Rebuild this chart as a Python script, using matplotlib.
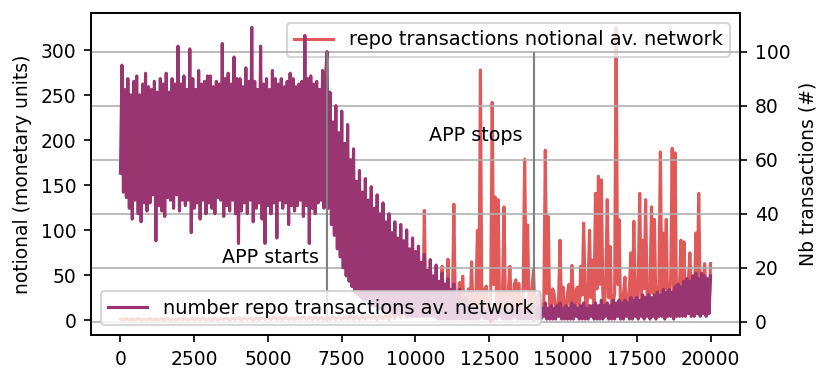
import numpy as np
import matplotlib
matplotlib.use("Agg")
import matplotlib.pyplot as plt

# ---------------- data ----------------
# notional: every 100 up to 9900, then every 50 up to 20000
notional_time = np.concatenate([np.arange(0, 10000, 100), np.arange(10000, 20001, 50)])
notional = [
    1.5, 0.5, 2, 0.5, 1.5, 0.5, 2, 0.5, 1.5, 0.5,
    2, 0.5, 1.5, 0.5, 2, 0.5, 2, 0.5, 1.5, 0.5,
    2, 0.5, 2, 0.5, 2.5, 0.5, 2, 0.5, 2.5, 0.5,
    2, 0.5, 2.5, 0.5, 2, 1, 2.5, 0.5, 2.5, 1,
    3, 0.5, 2.5, 1, 3, 0.5, 2.5, 1, 3, 1,
    3, 1, 3.5, 1, 3, 1, 3.5, 1, 3, 1,
    3.5, 1, 4, 1, 3.5, 1, 4, 1, 3.5, 1,
    4, 1, 4.5, 1, 4, 1, 4.5, 1, 5, 1,
    4.5, 1, 5, 1, 5, 1.5, 5.5, 1, 5, 1.5,
    6, 1, 9, 2, 12, 3, 16, 3, 20, 4,
    # from 10000, every 50
    25, 4, 30, 5, 28, 6, 122, 5, 8, 30, 38, 6, 12, 8, 48, 7, 15, 9, 60, 8,
    10, 9, 68, 8, 10, 12, 129, 9, 11, 30, 42, 10, 49, 11, 12, 25, 35, 10, 65, 12,
    12, 30, 100, 8, 278, 6, 14, 35, 38, 7, 10, 30, 242, 40, 137, 6, 134, 15, 6, 30,
    126, 8, 14, 35, 60, 7, 12, 40, 45, 6, 41, 20, 6, 30, 179, 35, 106, 8, 12, 37,
    56, 6, 10, 28, 30, 7, 12, 20, 189, 30, 115, 6, 14, 35, 30, 7, 12, 25, 89, 6,
    37, 8, 12, 30, 40, 6, 61, 25, 7, 35, 37, 8, 60, 28, 108, 30, 6, 40, 100, 25,
    67, 7, 141, 35, 160, 40, 156, 30, 8, 45, 134, 25, 82, 7, 18, 30, 325, 40, 112, 8,
    15, 30, 48, 7, 19, 35, 75, 8, 110, 30, 9, 45, 141, 25, 89, 35, 134, 30, 8, 40,
    126, 30, 112, 9, 20, 40, 187, 30, 97, 35, 112, 8, 22, 45, 191, 30, 186, 9, 20, 40,
    89, 30, 87, 9, 25, 45, 75, 30, 48, 10, 97, 35, 141, 30, 10, 40, 63, 25, 40, 12,
    63,
]

# number of transactions: every 50 from 0 to 20000
count_time = np.arange(0, 20001, 50)
n_transactions = [
    55, 95, 48, 86, 46, 90, 42, 84, 38, 89, 45, 91, 40, 84, 37, 88, 44, 92, 41, 87,
    44, 86, 47, 89, 30, 85, 43, 90, 41, 88, 39, 92, 46, 85, 45, 90, 42, 88, 47, 102,
    41, 88, 45, 91, 43, 86, 45, 101, 33, 90, 42, 86, 44, 93, 38, 88, 45, 89, 40, 91,
    44, 91, 42, 87, 40, 89, 46, 88, 45, 103, 39, 90, 43, 92, 41, 88, 45, 98, 40, 90,
    29, 90, 41, 87, 44, 94, 40, 89, 45, 109, 37, 89, 42, 86, 44, 102, 38, 88, 29, 90,
    43, 86, 40, 93, 44, 90, 31, 88, 45, 90, 42, 87, 44, 89, 36, 92, 43, 90, 41, 87,
    43, 88, 45, 89, 39, 106, 43, 90, 29, 91, 42, 88, 40, 89, 44, 86, 45, 93, 42, 90,
    100,
    42, 85, 36, 74, 32, 80, 27, 70, 24, 78, 20, 66, 17, 73, 15, 60, 13, 64, 11, 52,
    10, 56, 9, 48, 8, 53, 8, 45, 7, 50, 6, 42, 6, 47, 5, 40, 5, 44, 4, 37,
    4, 40, 4, 33, 3, 37, 3, 31, 3, 36, 3, 30, 3, 34, 2, 27, 2, 31, 2, 26,
    2, 28, 2, 22, 2, 25, 2, 19, 2, 23, 2, 17, 2, 21, 1, 15, 1, 18, 1, 14,
    1, 16, 1, 12, 1, 14, 1, 10, 1, 12, 1, 8, 1, 9, 1, 6, 1, 6, 1, 5,
    1, 5, 1, 4, 2, 5, 1, 4, 1, 5, 0, 4, 1, 5, 1, 4, 2, 5, 1, 4,
    1, 5, 1, 4, 1, 5, 2, 4, 1, 5, 1, 4, 1, 5, 1, 4, 1, 6, 1, 6,
    1, 5, 1, 6, 1, 5, 2, 7, 1, 5, 1, 6, 1, 5, 1, 6, 2, 7, 1, 5,
    1, 6, 1, 5, 1, 7, 1, 6, 2, 5, 1, 6, 1, 7, 1, 5, 1, 6, 2, 6,
    1, 7, 1, 6, 1, 8, 1, 6, 2, 7, 1, 6, 1, 8, 1, 7, 2, 8, 1, 7,
    1, 8, 2, 7, 1, 9, 1, 8, 2, 9, 1, 8, 2, 10, 1, 9, 2, 10, 1, 9,
    2, 10, 1, 11, 2, 10, 2, 12, 1, 11, 2, 12, 2, 11, 1, 13, 2, 14, 2, 13,
    2, 15, 2, 16, 3, 15, 2, 17, 2, 18, 3, 16, 2, 18, 3, 17, 2, 16, 3, 17,
]

event_x = [7000, 14000]
event_labels = ["APP starts", "APP stops"]
label_pos = [(3450, 21.6), (10450, 67)]

left_ticks = [0, 50, 100, 150, 200, 250, 300]
right_ticks = [0, 20, 40, 60, 80, 100]

RED = "#e05a5a"
PURPLE = "#993570"

# ---------------- figure ----------------
plt.rcParams["font.size"] = 9
fig = plt.figure(figsize=(830 / 150, 382 / 150), dpi=150)
ax1 = fig.add_axes([0.1096, 0.123, 0.7820, 0.843])
ax2 = ax1.twinx()

ax1.plot(notional_time, notional, color=RED, lw=1.5,
         label="repo transactions notional av. network")
ax2.plot(count_time, n_transactions, color=PURPLE, lw=1.5,
         label="number repo transactions av. network")

ax2.grid(axis="y", color="#b0b0b0", lw=0.8)
ax1.set_xlim(-1000, 21000)
ax1.set_ylim(-16.25, 341.25)
ax2.set_ylim(-4.9, 114.3)
ax1.set_yticks(left_ticks)
ax2.set_yticks(right_ticks)
ax1.set_xticks(np.arange(0, 20001, 2500))

for xv in event_x:
    ax2.vlines(xv, 0, 100, color="#808080", lw=1.0, zorder=3)
for (tx, ty), lab in zip(label_pos, event_labels):
    ax2.text(tx, ty, lab, ha="left", va="baseline", zorder=4, fontsize=9.2)

ax1.set_ylabel("notional (monetary units)")
ax2.set_ylabel("Nb transactions (#)")

ax1.legend(loc="upper right", fontsize=9.3)
ax2.legend(loc="lower left", fontsize=9.3)

fig.savefig("out.png", dpi=150)
